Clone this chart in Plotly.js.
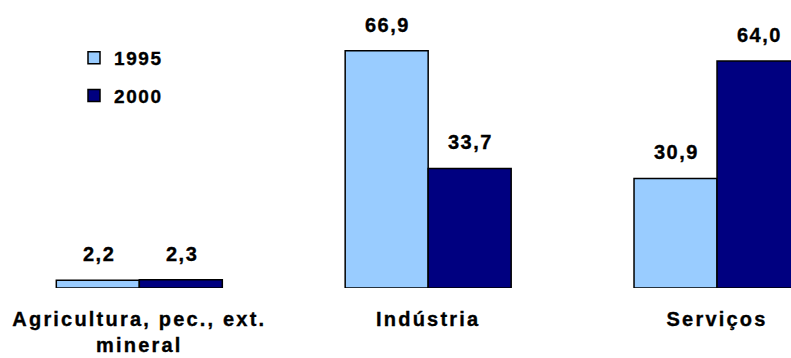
<!DOCTYPE html>
<html>
<head>
<meta charset="utf-8">
<script src="https://cdn.plot.ly/plotly-3.0.1.min.js"></script>
<style>
  html, body { margin: 0; padding: 0; background: #fff; overflow: hidden; width: 791px; height: 358px; }
  #chart { width: 880px; height: 358px; }
  .xtick text, .annotation-text, .legendtext { font-weight: 700 !important; font-family: "Liberation Sans", Arial, sans-serif !important; stroke: #000; stroke-width: 0.35px; }
  .xtick text { letter-spacing: 2.2px; }
  .annotation-text { letter-spacing: 1.5px; }
  .legendtext { letter-spacing: 1.6px; }
</style>
</head>
<body>
<div id="chart"></div>
<script>
const categories = ["Agricultura, pec., ext.<br>mineral", "Indústria", "Serviços"];
const seriesNames = ["1995", "2000"];
const values1995 = [2.2, 66.9, 30.9];
const values2000 = [2.3, 33.7, 64.0];
const colors = ["#99CCFF", "#000080"];

const FONT = "Liberation Sans";
const allValues = [values1995, values2000];

const traces = allValues.map((vals, i) => ({
  type: "bar",
  name: seriesNames[i],
  legendgroup: seriesNames[i],
  x: categories,
  y: vals,
  marker: { color: colors[i], line: { color: "#000000", width: 1.5 } },
  hoverinfo: "none"
}));

const fmt = v => v.toFixed(1).replace(".", ",");
const annotations = [];
allValues.forEach((vals, i) => {
  vals.forEach((v, j) => {
    annotations.push({
      x: categories[j], y: v, xref: "x", yref: "y",
      text: fmt(v), showarrow: false,
      xanchor: "center", yanchor: "bottom",
      xshift: (i === 0 ? -41.5 : 41.5) + 1, yshift: 13,
      font: { family: FONT, size: 20, color: "#000", weight: 700 }
    });
  });
});

const layout = {
  width: 880, height: 358,
  margin: { l: 0, r: 0, t: 0, b: 70 },
  paper_bgcolor: "#ffffff", plot_bgcolor: "#ffffff",
  barmode: "group", bargap: 0.4253, bargroupgap: 0,
  showlegend: true,
  legend: {
    x: 74 / 880, xanchor: "left", y: 0.865, yanchor: "top",
    traceorder: "grouped", tracegroupgap: 10,
    font: { family: FONT, size: 19, color: "#000", weight: 700 },
    bgcolor: "rgba(0,0,0,0)"
  },
  xaxis: {
    type: "category", range: [-0.4823, 2.5642],
    showline: false, showgrid: false, zeroline: false, ticks: "",
    tickangle: 0, ticklabelstandoff: 17,
    tickfont: { family: FONT, size: 20, color: "#000", weight: 700 }
  },
  yaxis: {
    range: [0, 81.2], visible: false, showgrid: false, zeroline: false
  },
  annotations: annotations
};

Plotly.newPlot("chart", traces, layout, { staticPlot: true, displayModeBar: false });
</script>
</body>
</html>
